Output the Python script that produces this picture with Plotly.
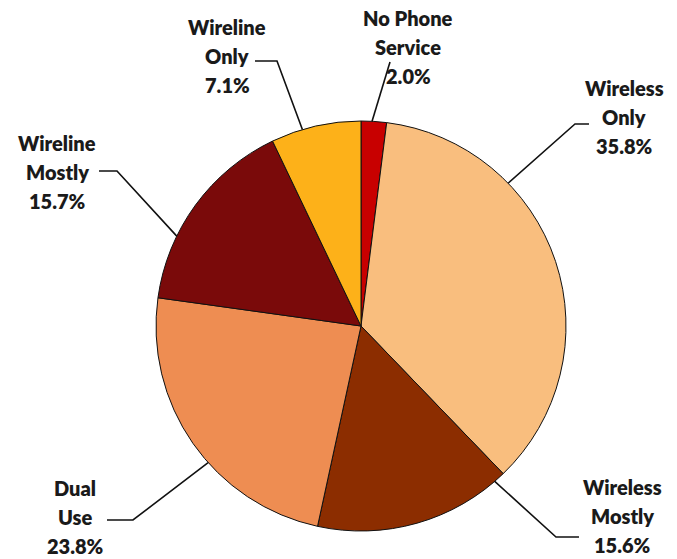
import plotly.graph_objects as go
import math

W, H = 677, 559

# ---- data ----
categories = ["No Phone Service", "Wireless Only", "Wireless Mostly", "Dual Use", "Wireline Mostly", "Wireline Only"]
label_lines = [["No Phone", "Service"], ["Wireless", "Only"], ["Wireless", "Mostly"],
               ["Dual", "Use"], ["Wireline", "Mostly"], ["Wireline", "Only"]]
values = [2.0, 35.8, 15.6, 23.8, 15.7, 7.1]
colors = ["#C80000", "#F9BE7E", "#8C2D00", "#EE8D52", "#7A0A0A", "#FDB119"]

# ---- layout settings (pixels) ----
cx, cy, R = 361, 326, 205
# label block: (center x, first line y), line spacing
label_pos = [(408, 18), (624, 88), (622, 487), (75, 488), (57, 143), (227, 27)]
line_gap = 29.0
# leader: elbow points from text toward pie, and fraction along slice for anchor
leader_pts = [
    [(390, 62)],
    [(589, 124), (575, 124)],
    [(579, 537), (556, 537)],
    [(107, 520), (133, 520)],
    [(99, 171), (117, 171)],
    [(255, 61), (277, 61)],
]
anchor_frac = [0.43, 0.30, 0.057, 0.42, 0.32, 0.35]

def px(x):
    return x / W

def py(y):
    return 1 - y / H

fig = go.Figure(go.Pie(
    labels=categories, values=values, sort=False, direction="clockwise", rotation=0,
    marker=dict(colors=colors, line=dict(color="#111111", width=1)),
    textinfo="none", hoverinfo="label+percent", showlegend=False,
    domain=dict(x=[px(cx - R), px(cx + R)], y=[py(cy + R), py(cy - R)]),
))

total = sum(values)
cum = 0.0
annotations = []
shapes = []
for i, v in enumerate(values):
    a0 = cum / total * 360
    a1 = (cum + v) / total * 360
    cum += v
    ang = math.radians(a0 + anchor_frac[i] * (a1 - a0))
    ex = cx + R * math.sin(ang)
    ey = cy - R * math.cos(ang)
    pts = leader_pts[i] + [(ex, ey)]
    path = "M " + " L ".join(f"{px(x):.5f},{py(y):.5f}" for x, y in pts)
    shapes.append(dict(type="path", path=path, xref="paper", yref="paper",
                       line=dict(color="#111111", width=1.6)))
    lines = label_lines[i] + [f"{v:.1f}%"]
    lx, ly = label_pos[i]
    for k, t in enumerate(lines):
        annotations.append(dict(
            text=t, x=px(lx), y=py(ly + k * line_gap), xref="paper", yref="paper",
            showarrow=False, xanchor="center", yanchor="middle",
            font=dict(family="Lato", size=20, color="#1a1a1a", weight=800),
        ))

fig.update_layout(
    width=W, height=H, margin=dict(l=0, r=0, t=0, b=0),
    paper_bgcolor="white", plot_bgcolor="white",
    annotations=annotations, shapes=shapes,
)

fig.write_html("out.html")
